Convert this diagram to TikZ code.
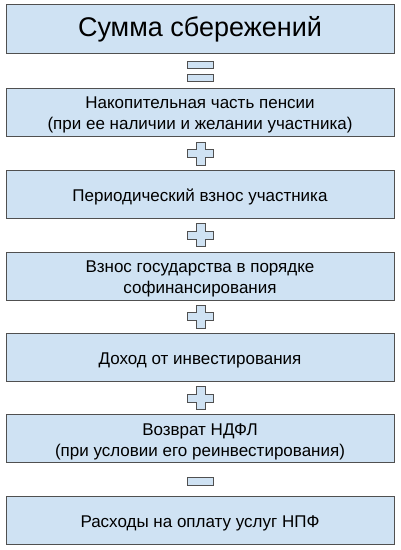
\documentclass[tikz,border=0pt]{standalone}
\usepackage{fontspec}
\setmainfont{Liberation Sans}
\definecolor{boxfill}{HTML}{CFE2F3}
\definecolor{boxline}{HTML}{505050}
\newcommand\blktext[2][-3pt]{\raisebox{#1}[\height][\depth]{\begin{tabular}{@{}c@{}}#2\end{tabular}}}
\begin{document}
\begin{tikzpicture}[x=1pt,y=-1pt,
  blk/.style={draw=boxline,fill=boxfill,line width=0.9pt,minimum width=388pt,minimum height=48pt,inner sep=0pt,font=\fontsize{17}{21}\selectfont},
  sgn/.style={draw=boxline,fill=boxfill,line width=0.9pt}]
\useasboundingbox (0,0) rectangle (400,550);
\node[blk,minimum height=49pt,font=\fontsize{27}{31}\selectfont] (b1) at (200,28.5) {\blktext[-2pt]{Сумма сбережений}};
\node[blk] (b2) at (200,112) {\blktext{Накопительная часть пенсии\\(при ее наличии и желании участника)}};
\node[blk] (b3) at (200,194.5) {\blktext{Периодический взнос участника}};
\node[blk] (b4) at (200,276) {\blktext{Взнос государства в порядке\\софинансирования}};
\node[blk] (b5) at (200,357) {\blktext{Доход от инвестирования}};
\node[blk] (b6) at (200,438.5) {\blktext{Возврат НДФЛ\\(при условии его реинвестирования)}};
\node[blk] (b7) at (200,520) {\blktext{Расходы на оплату услуг НПФ}};
% equals
\draw[sgn] (187,61.5) rectangle (213,68);
\draw[sgn] (187,74.5) rectangle (213,81);
% plus signs
\foreach \c in {153.5,235,316.5,398}{
  \draw[sgn] (196,\c-11.5) -- (205,\c-11.5) -- (205,\c-4) -- (213,\c-4) -- (213,\c+4) -- (205,\c+4) -- (205,\c+11.5) -- (196,\c+11.5) -- (196,\c+4) -- (187,\c+4) -- (187,\c-4) -- (196,\c-4) -- cycle;
}
% minus
\draw[sgn] (187,477) rectangle (213,485);
\end{tikzpicture}
\end{document}
